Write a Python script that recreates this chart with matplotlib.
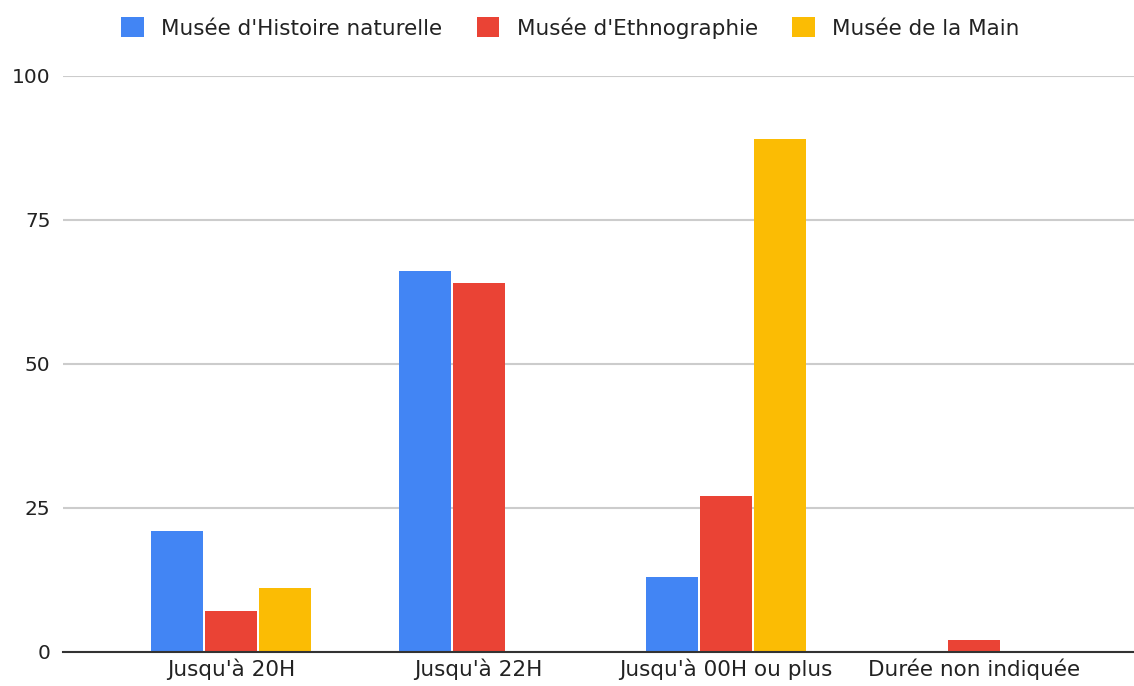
import matplotlib.pyplot as plt
from matplotlib.patches import Patch
import numpy as np

categories = ["Jusqu'à 20H", "Jusqu'à 22H", "Jusqu'à 00H ou plus", "Durée non indiquée"]
series_names = ["Musée d'Histoire naturelle", "Musée d'Ethnographie", "Musée de la Main"]
histoire = [21, 66, 13, 0]
ethno = [7, 64, 27, 2]
main = [11, 0, 89, 0]
yticks = [0, 25, 50, 75, 100]

colors = ["#4285F4", "#EA4335", "#FBBC04"]

plt.rcParams['font.family'] = ['DejaVu Sans']

fig = plt.figure(figsize=(11.34, 6.86), dpi=100)
ax = fig.add_axes([63 / 1134, 1 - 651.5 / 686, 1 - 63 / 1134, (651.5 - 75.7) / 686])

x = np.arange(len(categories))
offset = 0.218
width = 0.21
for i, (vals, c) in enumerate(zip([histoire, ethno, main], colors)):
    ax.bar(x + (i - 1) * offset, vals, width, color=c, zorder=3)

ax.set_ylim(0, 100)
ax.set_xlim(-0.679, 3.648)
ax.set_yticks(yticks)
ax.set_xticks(x)
ax.set_xticklabels(categories)
ax.grid(axis="y", color="#cccccc", linewidth=1.5, zorder=0)
ax.tick_params(axis="both", length=0, colors="#222222")
ax.tick_params(axis="y", pad=9, labelsize=14.5)
ax.tick_params(axis="x", pad=5, labelsize=15.5)
for s in ["top", "right", "left"]:
    ax.spines[s].set_visible(False)
ax.spines["bottom"].set_color("#333333")
ax.spines["bottom"].set_linewidth(1.5)
ax.spines["bottom"].set_zorder(4)

handles = [Patch(facecolor=c, edgecolor="none") for c in colors]
fig.legend(handles, series_names, loc="center", bbox_to_anchor=(0.503, 1 - 28 / 686), ncol=3,
           frameon=False, fontsize=15.5, handlelength=1.05, handleheight=1.05,
           handletextpad=0.8, columnspacing=1.6, labelcolor="#222222")

fig.savefig("out.png", dpi=100)
